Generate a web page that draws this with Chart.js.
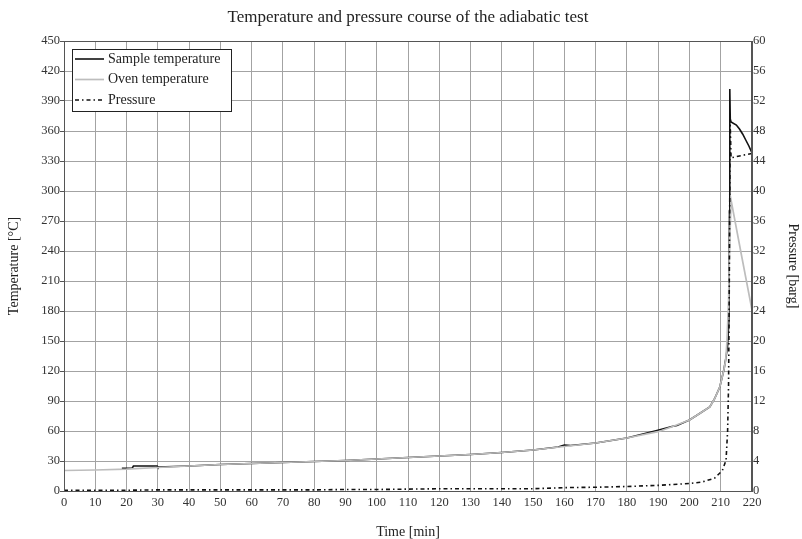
<!DOCTYPE html>
<html>
<head>
<meta charset="utf-8">
<script src="https://cdn.jsdelivr.net/npm/chart.js@4/dist/chart.umd.min.js"></script>
<style>
html, body { margin: 0; padding: 0; background: #fff; }
</style>
</head>
<body>
<canvas id="myChart" width="802" height="539"></canvas>
<script>
// data
const timeTicks = [0, 220, 10];
const tempTicks = [0, 450, 30];
const pressTicks = [0, 60, 4];

const ovenTime = [0, 10, 20, 30, 40, 50, 60, 70, 80, 90, 100, 110, 120, 130, 140, 150, 160, 170, 180, 190, 194, 200, 203, 206.5, 208, 209.7, 211, 211.6, 212, 212.5, 212.8, 213.3, 216.5, 220];
const ovenTemp = [20.5, 21, 21.8, 23.5, 25, 26.5, 27.5, 28.5, 29.5, 30.5, 32, 33.5, 35, 36.5, 38.5, 41, 44.5, 48, 53, 59.3, 63.8, 71, 77, 84, 92, 104, 121, 131, 150, 190, 240, 291, 238, 181];

const sampleTime = [18.5, 21.8, 22.2, 29.8, 30, 40, 50, 60, 70, 80, 90, 100, 110, 120, 130, 140, 150, 158, 160, 162, 170, 180, 189.6, 194.4, 196, 200, 203, 206.5, 208, 209.7, 211, 211.6, 212.2, 212.6, 212.8, 212.9, 213.05, 213.3, 215, 216, 217, 218, 219, 220];
const sampleTemp = [22.8, 22.8, 25, 25, 24, 25, 26.5, 27.5, 28.5, 29.5, 30.5, 32, 33.5, 35, 36.5, 38.5, 41, 44, 46, 45.5, 48, 53, 60.5, 64.5, 65.5, 71, 77, 84, 92, 104, 121, 132, 145, 170, 280, 402, 372, 369, 366, 362, 357, 351, 345, 338];

const pressTime = [0, 10, 20, 30, 40, 50, 60, 70, 80, 90, 100, 110, 120, 130, 140, 150, 160, 170, 180, 190, 200, 204, 208, 210.5, 211.7, 212.2, 212.5, 212.7, 212.9, 213.0, 213.3, 215, 220];
const pressure = [0.1, 0.1, 0.1, 0.15, 0.15, 0.15, 0.15, 0.15, 0.15, 0.2, 0.2, 0.25, 0.3, 0.3, 0.3, 0.3, 0.45, 0.5, 0.6, 0.75, 1.0, 1.2, 1.7, 2.7, 4.1, 8, 14, 25, 40, 49.5, 44.4, 44.6, 45];

const seriesNames = ['Sample temperature', 'Oven temperature', 'Pressure'];

const serif = 'Liberation Serif, Times New Roman, serif';

function toPoints(xs, ys) {
    return xs.map((x, i) => ({ x: x, y: ys[i] }));
}

// title, frame and legend drawn inside the plot
const extras = {
    id: 'extras',
    afterDraw(chart) {
        const ctx = chart.ctx;
        const a = chart.chartArea;
        ctx.save();
        ctx.strokeStyle = '#555';
        ctx.lineWidth = 1;
        ctx.strokeRect(a.left + 0.5, a.top + 0.5, a.right - a.left - 1, a.bottom - a.top);

        ctx.fillStyle = '#222';
        ctx.font = '17px ' + serif;
        ctx.textAlign = 'center';
        ctx.textBaseline = 'middle';
        ctx.fillText('Temperature and pressure course of the adiabatic test', (a.left + a.right) / 2, 18);

        // legend
        const bx = a.left + 8, by = a.top + 8, bw = 159, bh = 62;
        ctx.fillStyle = '#fff';
        ctx.fillRect(bx, by, bw, bh);
        ctx.strokeStyle = '#222';
        ctx.strokeRect(bx + 0.5, by + 0.5, bw, bh);
        ctx.font = '14px ' + serif;
        ctx.textAlign = 'left';
        chart.data.datasets.forEach((ds, i) => {
            const y = by + 10 + i * 20.5;
            ctx.beginPath();
            ctx.setLineDash(ds.borderDash || []);
            ctx.strokeStyle = ds.borderColor;
            ctx.lineWidth = ds.borderWidth;
            ctx.moveTo(bx + 3, y);
            ctx.lineTo(bx + 32, y);
            ctx.stroke();
            ctx.setLineDash([]);
            ctx.fillStyle = '#222';
            ctx.fillText(ds.label, bx + 36, y);
        });
        ctx.restore();
    }
};

const data = {
    datasets: [{
        label: seriesNames[0],
        data: toPoints(sampleTime, sampleTemp),
        borderColor: '#111',
        borderWidth: 1.6,
        yAxisID: 'y',
        order: 2
    }, {
        label: seriesNames[1],
        data: toPoints(ovenTime, ovenTemp),
        borderColor: '#bdbdbd',
        borderWidth: 1.7,
        yAxisID: 'y',
        order: 1
    }, {
        label: seriesNames[2],
        data: toPoints(pressTime, pressure),
        borderColor: '#111',
        borderWidth: 1.6,
        borderDash: [4, 3, 1.5, 3],
        yAxisID: 'y1',
        order: 0
    }]
};

const tickFont = { family: serif, size: 12.5 };
const tickColor = '#333';

const config = {
    type: 'line',
    data: data,
    options: {
        responsive: false,
        animation: false,
        layout: { padding: { top: 41, left: 0, right: 0, bottom: 0 } },
        elements: { point: { radius: 0 }, line: { tension: 0 } },
        plugins: {
            legend: { display: false },
            tooltip: { enabled: false }
        },
        scales: {
            x: {
                type: 'linear',
                min: timeTicks[0],
                max: timeTicks[1],
                ticks: { stepSize: timeTicks[2], font: tickFont, color: tickColor, padding: 4, maxRotation: 0 },
                grid: { color: '#a3a3a3', drawTicks: false },
                border: { color: '#555' },
                title: { display: true, text: 'Time [min]', font: { family: serif, size: 14, lineHeight: 1 }, color: '#222', padding: 0 },
                afterFit(s) { s.height = 48; }
            },
            y: {
                position: 'left',
                min: tempTicks[0],
                max: tempTicks[1],
                ticks: { stepSize: tempTicks[2], font: tickFont, color: tickColor, padding: 0 },
                grid: { color: '#a3a3a3', tickLength: 4, tickColor: '#555' },
                border: { color: '#555' },
                title: { display: true, text: 'Temperature [°C]', font: { family: serif, size: 14, lineHeight: 1 }, color: '#222', padding: { top: 7 } },
                afterFit(s) { s.width = 64; }
            },
            y1: {
                position: 'right',
                min: pressTicks[0],
                max: pressTicks[1],
                ticks: { stepSize: pressTicks[2], font: tickFont, color: tickColor, padding: 1 },
                grid: { drawOnChartArea: false, drawTicks: false },
                border: { color: '#555' },
                title: { display: true, text: 'Pressure [barg]', font: { family: serif, size: 14, lineHeight: 1 }, color: '#222', padding: { top: 2 } },
                afterFit(s) { s.width = 50; }
            }
        }
    },
    plugins: [extras]
};

const myChart = new Chart(document.getElementById('myChart'), config);
</script>
</body>
</html>
